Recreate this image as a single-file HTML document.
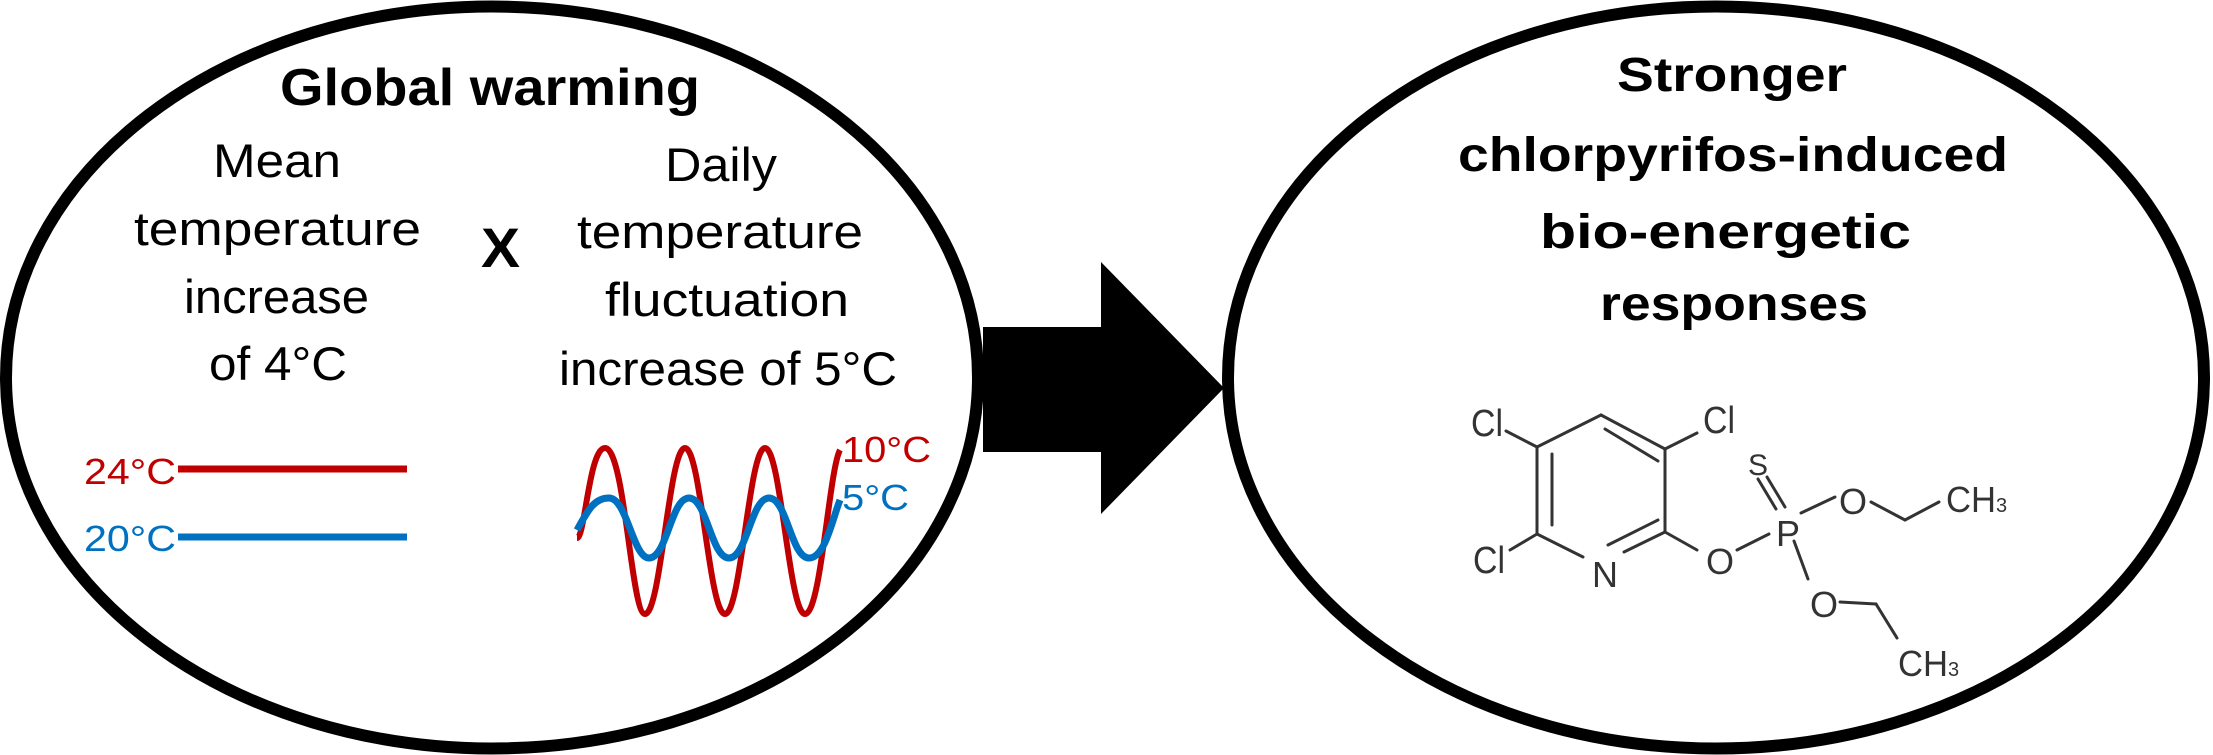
<!DOCTYPE html>
<html><head><meta charset="utf-8"><style>
html,body{margin:0;padding:0;background:#fff;}
svg{display:block;}
text{font-family:"Liberation Sans",sans-serif;}
</style></head><body>
<svg width="2213" height="755" viewBox="0 0 2213 755" xmlns="http://www.w3.org/2000/svg">
<rect width="2213" height="755" fill="#fff"/>
<ellipse cx="492" cy="377.5" rx="486" ry="371" fill="#fff" stroke="#000" stroke-width="12"/>
<ellipse cx="1716" cy="377.5" rx="488" ry="371" fill="#fff" stroke="#000" stroke-width="12"/>
<polygon points="983,327 1101,327 1101,262 1224,388 1101,514 1101,452 983,452" fill="#000"/>

<g fill="#000" text-anchor="start">
<text x="280" y="105" font-size="52" font-weight="bold" textLength="420" lengthAdjust="spacingAndGlyphs">Global warming</text>
<text x="213" y="177" font-size="47" textLength="128" lengthAdjust="spacingAndGlyphs">Mean</text>
<text x="134" y="245" font-size="47" textLength="287" lengthAdjust="spacingAndGlyphs">temperature</text>
<text x="184" y="313" font-size="47" textLength="185" lengthAdjust="spacingAndGlyphs">increase</text>
<text x="209" y="380" font-size="47" textLength="138" lengthAdjust="spacingAndGlyphs">of 4°C</text>
<text x="481" y="267" font-size="56" font-weight="bold" textLength="39" lengthAdjust="spacingAndGlyphs">X</text>
<text x="665" y="181" font-size="47" textLength="112" lengthAdjust="spacingAndGlyphs">Daily</text>
<text x="577" y="248" font-size="47" textLength="286" lengthAdjust="spacingAndGlyphs">temperature</text>
<text x="605" y="316" font-size="47" textLength="244" lengthAdjust="spacingAndGlyphs">fluctuation</text>
<text x="559" y="385" font-size="47" textLength="338" lengthAdjust="spacingAndGlyphs">increase of 5°C</text>
</g>

<text x="84" y="484" font-size="36" fill="#c00000" textLength="92" lengthAdjust="spacingAndGlyphs">24°C</text>
<line x1="178" y1="469" x2="407" y2="469" stroke="#c00000" stroke-width="7"/>
<text x="84" y="551" font-size="36" fill="#0070c0" textLength="92" lengthAdjust="spacingAndGlyphs">20°C</text>
<line x1="178" y1="537" x2="407" y2="537" stroke="#0070c0" stroke-width="7"/>

<path fill="none" stroke="#c00000" stroke-width="6" d="M577,538 C585,538 589,448 605,448 C625,448 631,614 645,614 C661,614 669,448 685,448 C701,448 709,614 725,614 C741,614 749,448 765,448 C781,448 789,614 805,614 C821,614 829,470 840,450"/>
<path fill="none" stroke="#0070c0" stroke-width="7" d="M577,530 C589,508 595,498 609,498 C627,498 633,558 649,558 C667,558 671,498 689,498 C707,498 711,558 729,558 C747,558 751,498 769,498 C787,498 791,558 809,558 C825,558 832,520 840,500"/>
<text x="842" y="462" font-size="36" fill="#c00000" textLength="89" lengthAdjust="spacingAndGlyphs">10°C</text>
<text x="842" y="510" font-size="36" fill="#0070c0" textLength="67" lengthAdjust="spacingAndGlyphs">5°C</text>

<g fill="#000" font-weight="bold" font-size="48">
<text x="1617" y="91" textLength="230" lengthAdjust="spacingAndGlyphs">Stronger</text>
<text x="1458" y="171" textLength="550" lengthAdjust="spacingAndGlyphs">chlorpyrifos-induced</text>
<text x="1540" y="248" textLength="371" lengthAdjust="spacingAndGlyphs">bio-energetic</text>
<text x="1600" y="320" textLength="268" lengthAdjust="spacingAndGlyphs">responses</text>
</g>

<g stroke="#333" stroke-width="3" fill="none" stroke-linecap="round">
<line x1="1601" y1="415" x2="1665" y2="449"/>
<line x1="1665" y1="449" x2="1665" y2="532"/>
<line x1="1665" y1="532" x2="1624" y2="552"/>
<line x1="1583" y1="557" x2="1537" y2="534"/>
<line x1="1537" y1="534" x2="1537" y2="447"/>
<line x1="1537" y1="447" x2="1601" y2="415"/>
<line x1="1552" y1="454" x2="1552" y2="525"/>
<line x1="1605" y1="429" x2="1658" y2="461"/>
<line x1="1608" y1="545" x2="1658" y2="520"/>
<line x1="1537" y1="447" x2="1506" y2="431"/>
<line x1="1665" y1="449" x2="1697" y2="433"/>
<line x1="1537" y1="534" x2="1510" y2="550"/>
<line x1="1665" y1="532" x2="1697" y2="550"/>
<line x1="1737" y1="550" x2="1769" y2="534"/>
<line x1="1758" y1="479" x2="1776" y2="509"/>
<line x1="1767" y1="477" x2="1785" y2="507"/>
<line x1="1801" y1="513" x2="1835" y2="497"/>
<line x1="1871" y1="502" x2="1905" y2="520"/>
<line x1="1905" y1="520" x2="1939" y2="502"/>
<line x1="1794" y1="541" x2="1808" y2="579"/>
<line x1="1840" y1="602" x2="1876" y2="604"/>
<line x1="1876" y1="604" x2="1897" y2="638"/>
</g>
<g fill="#333" font-size="38" text-anchor="middle">
<text x="1487" y="436" textLength="32" lengthAdjust="spacingAndGlyphs">Cl</text>
<text x="1719" y="433" textLength="32" lengthAdjust="spacingAndGlyphs">Cl</text>
<text x="1489" y="573" textLength="32" lengthAdjust="spacingAndGlyphs">Cl</text>
<text x="1605" y="587" font-size="36">N</text>
<text x="1720" y="574" font-size="36">O</text>
<text x="1788" y="546" font-size="36">P</text>
<text x="1758" y="475" font-size="30">S</text>
<text x="1853" y="514" font-size="36">O</text>
<text x="1824" y="617" font-size="36">O</text>
</g>
<g fill="#333" font-size="36">
<text x="1946" y="512" textLength="50" lengthAdjust="spacingAndGlyphs">CH</text><text x="1996" y="512" font-size="20">3</text>
<text x="1898" y="676" textLength="50" lengthAdjust="spacingAndGlyphs">CH</text><text x="1948" y="676" font-size="20">3</text>
</g>
</svg>
</body></html>
